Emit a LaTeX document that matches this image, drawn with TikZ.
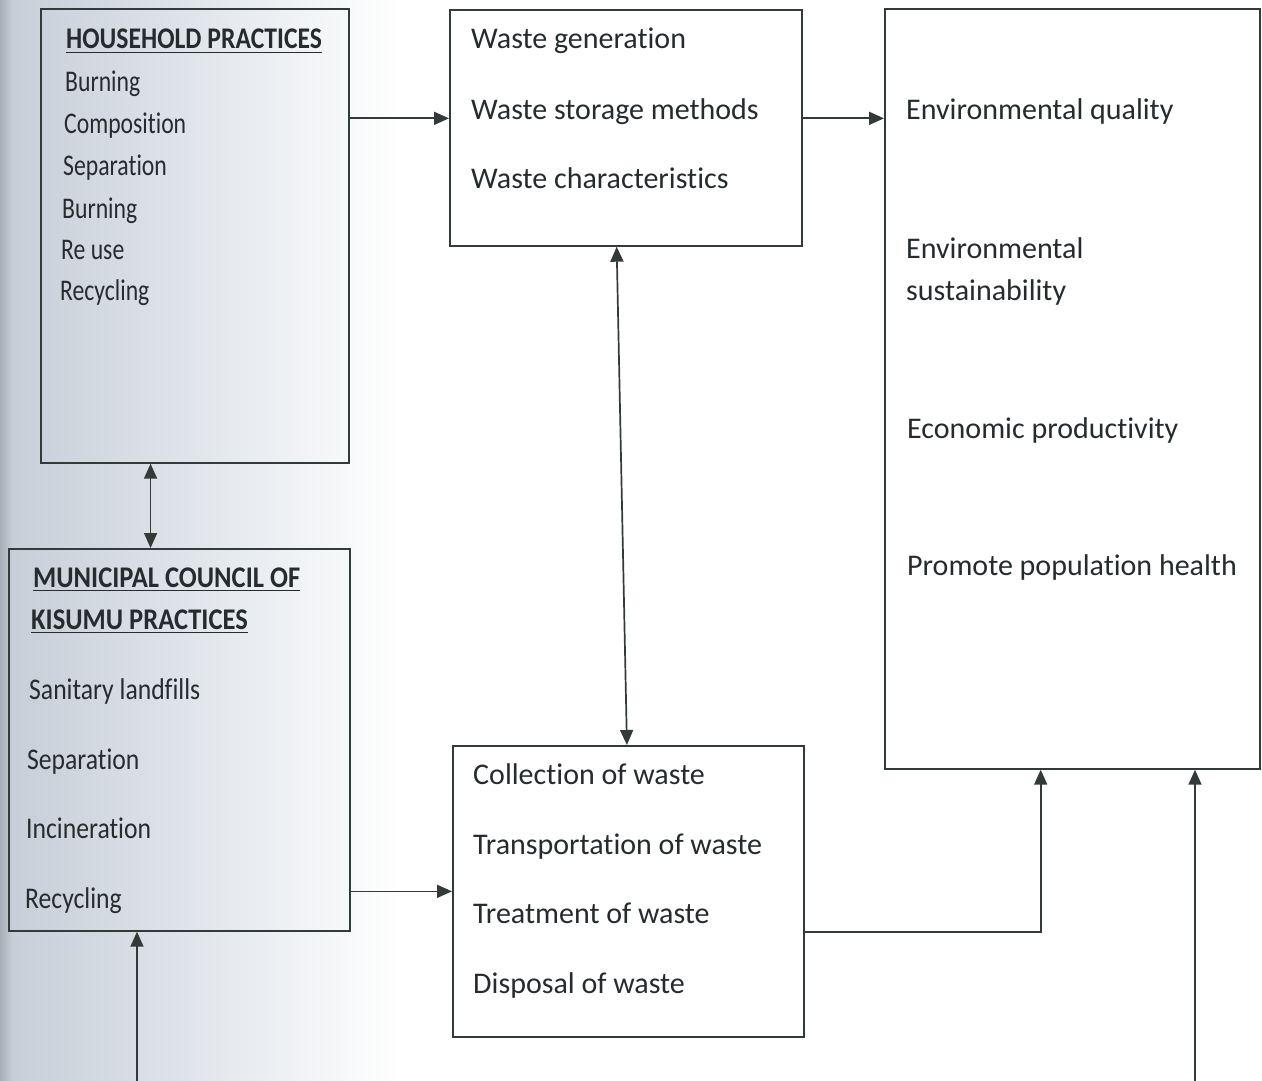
\documentclass[tikz,border=0pt]{standalone}
\usepackage{fontspec}
\usepackage{graphicx}
\setmainfont{Carlito}[Ligatures=NoCommon]
\usetikzlibrary{arrows.meta,calc}
\definecolor{ink}{HTML}{262C2E}
\definecolor{linec}{HTML}{333A3A}
\definecolor{shadeL}{HTML}{C6CED8}
\definecolor{shadeE}{HTML}{A7AEB8}
\newcommand\condA[1]{\scalebox{0.79}[1]{#1}}
\newcommand\condH[1]{\scalebox{0.855}[1]{#1}}
\newcommand\condM[1]{\scalebox{0.885}[1]{#1}}
\newcommand\condB[1]{\scalebox{0.855}[1]{#1}}
\begin{document}
\begin{tikzpicture}[x=1pt,y=-1pt,
  box/.style={draw=linec,line width=1.7pt,rectangle,inner sep=0pt,anchor=north west},
  txt/.style={anchor=base west,inner sep=0pt,text=ink,font=\fontsize{30}{36}\selectfont},
  conn/.style={draw=linec,line width=1.7pt,-{Triangle[length=15pt,width=13pt]}},
  dconn/.style={draw=linec,line width=1.7pt,{Triangle[length=15pt,width=13pt]}-{Triangle[length=15pt,width=13pt]}},
  uline/.style={draw=ink,line width=1.8pt}]

\useasboundingbox (0,0) rectangle (1262,1081);
\fill[white] (0,0) rectangle (1262,1081);
\shade[left color=shadeL, right color=white] (10,0) rectangle (400,1081);
\shade[left color=shadeE, right color=shadeL] (0,0) rectangle (12,1081);

% boxes
\node[box,minimum width=308pt,minimum height=454pt] (b1) at (40,8) {};
\node[box,minimum width=352pt,minimum height=236pt] (b2) at (449,9) {};
\node[box,minimum width=375pt,minimum height=760pt] (b3) at (884,8) {};
\node[box,minimum width=341pt,minimum height=382pt] (b4) at (8,548) {};
\node[box,minimum width=351pt,minimum height=291pt] (b5) at (452,745) {};

% box 1 text
\node[txt] (h1) at (66,49) {\condH{\bfseries HOUSEHOLD PRACTICES}};
\draw[uline] ($(h1.south west)+(0,3)$) -- ($(h1.south east)+(0,3)$);
\node[txt] (t11) at (65,92) {\condA{Burning}};
\node[txt] (t12) at (64,133) {\condA{Composition}};
\node[txt] (t13) at (63,175) {\condA{Separation}};
\node[txt] (t14) at (62,218) {\condA{Burning}};
\node[txt] (t15) at (61,259) {\condA{Re use}};
\node[txt] (t16) at (60,300) {\condA{Recycling}};

% box 2 text
\node[txt] (t21) at (471,49) {Waste generation};
\node[txt] (t22) at (471,119) {Waste storage methods};
\node[txt] (t23) at (471,188) {Waste characteristics};

% box 3 text
\node[txt] (t31) at (906,119) {Environmental quality};
\node[txt] (t32) at (906,258) {Environmental};
\node[txt] (t33) at (906,300) {sustainability};
\node[txt] (t34) at (907,438) {Economic productivity};
\node[txt] (t35) at (907,575) {Promote population health};

% box 4 text
\node[txt] (h41) at (33,587) {\condM{\bfseries MUNICIPAL COUNCIL OF}};
\draw[uline] ($(h41.south west)+(0,3)$) -- ($(h41.south east)+(0,3)$);
\node[txt] (h42) at (31,629) {\condM{\bfseries KISUMU PRACTICES}};
\draw[uline] ($(h42.south west)+(0,3)$) -- ($(h42.south east)+(0,3)$);
\node[txt] (t41) at (29,699) {\condB{Sanitary landfills}};
\node[txt] (t42) at (27,769) {\condB{Separation}};
\node[txt] (t43) at (26,838) {\condB{Incineration}};
\node[txt] (t44) at (25,908) {\condB{Recycling}};

% box 5 text
\node[txt] (t51) at (473,784) {Collection of waste};
\node[txt] (t52) at (473,854) {Transportation of waste};
\node[txt] (t53) at (473,923) {Treatment of waste};
\node[txt] (t54) at (473,993) {Disposal of waste};

% connectors
\coordinate (p12) at ($(b2.north west)!0.46!(b2.south west)$);
\draw[conn] (b1.east |- p12) -- (p12);
\coordinate (p23) at ($(b2.north east)!0.46!(b2.south east)$);
\draw[conn] (p23) -- (p23 -| b3.west);
\coordinate (p14) at ($(b1.south west)!0.357!(b1.south east)$);
\draw[dconn] (p14) -- (p14 |- b4.north);
\coordinate (p25a) at ($(b2.south west)!0.474!(b2.south east)$);
\coordinate (p25b) at ($(b5.north west)!0.496!(b5.north east)$);
\draw[dconn] (p25a) -- (p25b);
\draw[conn] (b4.east |- b5.west) -- (b5.west);
\coordinate (p53) at ($(b5.south east)!0.36!(b5.north east)$);
\coordinate (q3) at ($(b3.south west)!0.416!(b3.south east)$);
\draw[conn] (p53) -| (q3);
\coordinate (in3) at (1195,1081);
\draw[conn] (in3) -- (in3 |- b3.south);
\coordinate (in4) at (137,1081);
\draw[conn] (in4) -- (in4 |- b4.south);
\end{tikzpicture}
\end{document}
